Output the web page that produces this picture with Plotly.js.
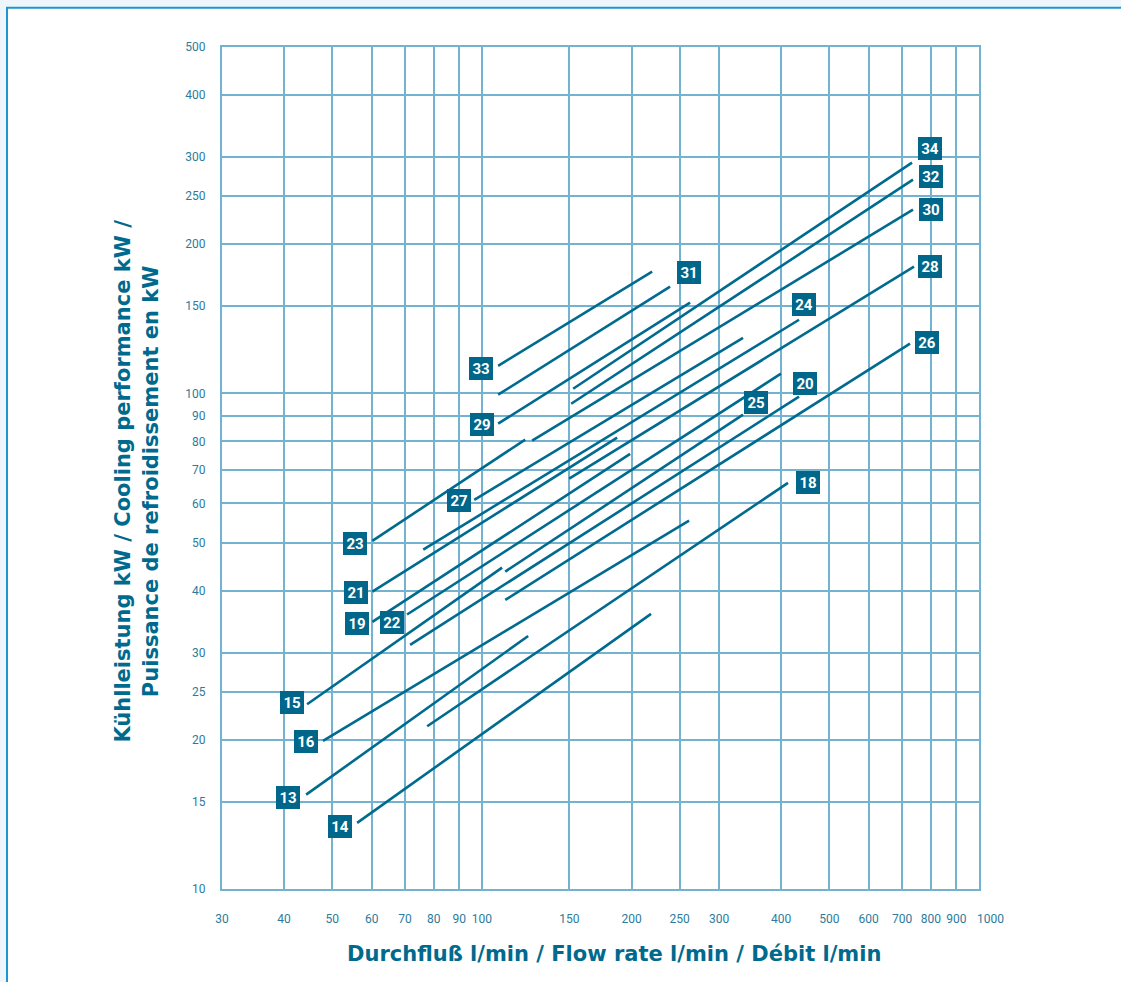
<!DOCTYPE html>
<html>
<head>
<meta charset="utf-8">
<script src="https://cdn.plot.ly/plotly-3.0.1.min.js"></script>
<style>
html,body{margin:0;padding:0;background:#eef6fb;}
#chart{width:1121px;height:982px;}
</style>
</head>
<body>
<div id="chart"></div>
<script>
// ---- Data (flow rate l/min, cooling performance kW) ----
const lineIds    = ['33','31','29','34','32','30','28','24','27','23','21','19','22','15','25','20','26','16','13','18','14'];
const flowStart  = [107.8,107.8,107.8,152.6,151.2,126.2,149.8, 76.2, 96.5, 60.2, 60.2, 60.2, 70.7, 44.5,111.4, 71.7,111.4, 47.9, 44.3, 77.6, 56.1];
const powerStart = [113.7, 99.4, 86.9,102.2, 95.3, 80.3, 67.3, 48.4, 61.0, 50.4, 39.8, 34.6, 35.8, 23.6, 43.7, 31.1, 38.3, 19.9, 15.5, 21.3, 13.6];
const flowEnd    = [220.0,239.1,262.3,733.2,736.6,736.6,740.0,434.5,335.2,122.2,187.1,198.7,399.6,109.8,335.2,434.5,726.4,261.1,123.9,412.8,218.9];
const powerEnd   = [176.1,164.2,152.4,292.1,269.9,234.8,180.2,140.8,129.5, 80.7, 81.4, 75.5,109.6, 44.5, 90.6, 98.5,126.0, 55.4, 32.4, 66.0, 35.9];

// label box anchor positions (same order as lineIds)
const labelFlow  = [ 99.6,261.1,100.0,797.0,800.0,800.6,797.6,444.9, 89.9, 55.5, 55.8, 56.1, 65.9, 41.5,355.7,447.0,786.0, 44.3, 40.7,452.5, 51.7];
const labelPower = [112.1,175.4, 86.5,312.1,274.1,234.8,180.4,151.0, 60.8, 49.8, 39.7, 34.4, 34.5, 23.8, 95.9,104.6,126.8, 19.8, 15.3, 66.1, 13.4];

const xTicks = [30,40,50,60,70,80,90,100,150,200,250,300,400,500,600,700,800,900,1000];
const yTicks = [10,15,20,25,30,40,50,60,70,80,90,100,150,200,250,300,400,500];

const xTitle = 'Durchfluß l/min / Flow rate l/min / Débit l/min';
const yTitle1 = 'Kühlleistung kW / Cooling performance kW /';
const yTitle2 = 'Puissance de refroidissement en kW';

// ---- Styles ----
const lineColor = '#006a8f';
const boxColor = '#00678b';
const gridColor = '#74b3cf';
const tickColor = '#2d7b9c';
const titleColor = '#006a8e';
const fontFam = 'Roboto, "Open Sans", sans-serif';
const titleFam = '"DejaVu Sans", Roboto, sans-serif';

const traces = lineIds.map((id, i) => ({
  type: 'scatter', mode: 'lines',
  x: [flowStart[i], flowEnd[i]],
  y: [powerStart[i], powerEnd[i]],
  line: {color: lineColor, width: 2.6},
  hoverinfo: 'skip', showlegend: false
}));

const annotations = lineIds.map((id, i) => ({
  xref: 'x', yref: 'y',
  x: Math.log10(labelFlow[i]), y: Math.log10(labelPower[i]),
  text: '<b>' + id + '</b>', showarrow: false,
  bgcolor: boxColor, width: 24, height: 23, borderpad: 0, borderwidth: 0,
  font: {family: fontFam, size: 15, color: '#ffffff'},
  xanchor: 'center', yanchor: 'middle'
}));

annotations.push({
  xref: 'paper', yref: 'paper', x: 0.518, y: -0.0768,
  text: '<b>' + xTitle + '</b>', showarrow: false,
  font: {family: titleFam, size: 21, color: titleColor},
  xanchor: 'center', yanchor: 'middle'
});
annotations.push({
  xref: 'paper', yref: 'paper', x: -0.1123, y: 0.485,
  text: '<b>' + yTitle1 + '<br>' + yTitle2 + '</b>', showarrow: false,
  textangle: -90,
  font: {family: titleFam, size: 21, color: titleColor},
  xanchor: 'center', yanchor: 'middle'
});

// the last x label sits slightly right of its grid line in the original
const lastX = xTicks[xTicks.length - 1];
annotations.push({
  xref: 'paper', yref: 'paper', x: 1 + 11 / 757, y: (889.3 - 919.3) / 842,
  text: String(lastX), showarrow: false,
  font: {family: fontFam, size: 12, color: tickColor},
  xanchor: 'center', yanchor: 'middle'
});
const xTickText = xTicks.map((v, i) => i === xTicks.length - 1 ? '' : String(v));

const axisCommon = {
  type: 'log', showgrid: true, gridcolor: gridColor, gridwidth: 2,
  showline: true, linecolor: gridColor, linewidth: 2, mirror: true,
  zeroline: false, ticks: 'outside', tickcolor: 'rgba(0,0,0,0)',
  tickangle: 0,
  tickfont: {family: fontFam, size: 12, color: tickColor},
  fixedrange: true
};

const layout = {
  width: 1121, height: 982,
  margin: {l: 222, r: 142, t: 47, b: 93},
  paper_bgcolor: '#eef6fb',
  plot_bgcolor: 'rgba(0,0,0,0)',
  xaxis: Object.assign({}, axisCommon, {
    range: [Math.log10(30), Math.log10(1000)],
    tickmode: 'array', tickvals: xTicks, ticktext: xTickText,
    ticklen: 18
  }),
  yaxis: Object.assign({}, axisCommon, {
    range: [Math.log10(10), Math.log10(500)],
    tickmode: 'array', tickvals: yTicks, ticktext: yTicks.map(String),
    ticklen: 12
  }),
  shapes: [{
    type: 'rect', xref: 'paper', yref: 'paper', layer: 'below',
    x0: (7 - 222) / 757, x1: (1140 - 222) / 757,
    y0: (889.3 - 1000) / 842, y1: (889.3 - 8) / 842,
    fillcolor: '#ffffff', line: {color: '#1b96cf', width: 2}
  }],
  annotations: annotations,
  showlegend: false
};

Plotly.newPlot('chart', traces, layout, {displayModeBar: false, staticPlot: true});
</script>
</body>
</html>
